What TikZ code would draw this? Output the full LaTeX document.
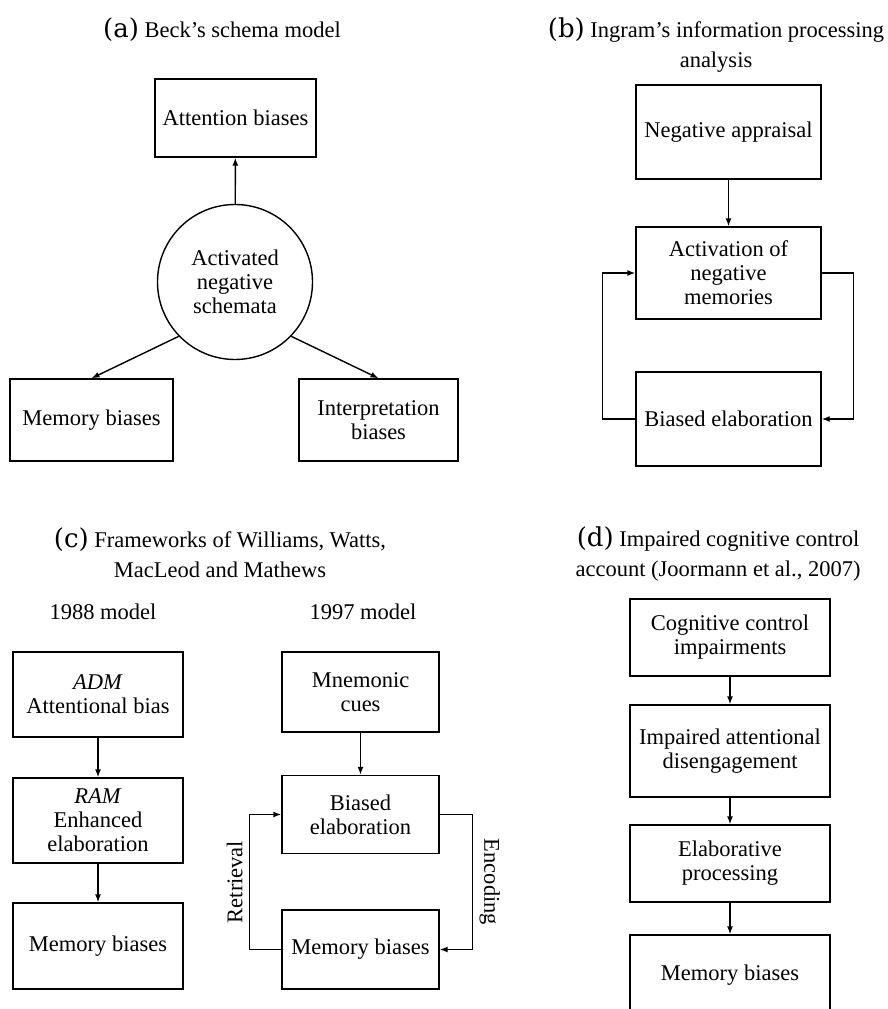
\documentclass[tikz,border=0pt]{standalone}
\usepackage{fontspec}
\setmainfont{Liberation Serif}
\newfontfamily\tagfont{DejaVu Serif}
\usetikzlibrary{arrows.meta}

\newcommand{\paneltag}[1]{{\tagfont\fontsize{26}{26}\selectfont(#1)}}

\begin{document}
\begin{tikzpicture}[x=1pt,y=-1pt,
    font=\fontsize{22.5}{24}\selectfont,
    box/.style={draw,line width=1.4pt,align=center,inner sep=0pt},
    tip/.style={-{Latex[length=8pt,width=6pt]},line width=1.4pt}]

      \useasboundingbox (0,0) rectangle (888,1009);

      % panel titles
      \begin{scope}[every node/.style={align=center,font=\fontsize{22.5}{30}\selectfont}]
        \node (ta) at (222,30)  {\paneltag{a} Beck's schema model};
        \node (tb) at (716,45)  {\paneltag{b} Ingram's information processing\\analysis};
        \node (tc) at (220,553) {\paneltag{c} Frameworks of Williams, Watts,\\MacLeod and Mathews};
        \node (td) at (718,554) {\paneltag{d} Impaired cognitive control\\account (Joormann et al., 2007)};
        \node (y88) at (103,612) {1988 model};
        \node (y97) at (363,612) {1997 model};
      \end{scope}

      % (a)
      \node[box,minimum width=161,minimum height=78] (attn) at (235.5,118) {Attention biases};
      \node[box,circle,minimum size=155] (schema) at (235,282) {Activated\\negative\\schemata};
      \node[box,minimum width=163,minimum height=82] (mema) at (91.5,420) {Memory biases};
      \node[box,minimum width=159,minimum height=82] (interp) at (378.5,420) {Interpretation\\biases};

      % (b)
      \node[box,minimum width=185,minimum height=94] (negapp) at (728.5,132) {Negative appraisal};
      \node[box,minimum width=185,minimum height=92] (activ)  at (728.5,273) {Activation of\\negative\\memories};
      \node[box,minimum width=185,minimum height=94] (biasel) at (728.5,419) {Biased elaboration};

      % (c)
      \node[box,minimum width=170,minimum height=85] (adm)   at (98,694.5) {\textit{ADM}\\Attentional bias};
      \node[box,minimum width=170,minimum height=85] (ram)   at (98,820.5) {\textit{RAM}\\Enhanced\\elaboration};
      \node[box,minimum width=170,minimum height=86] (mem88) at (98,946)   {Memory biases};
      \node[box,minimum width=157,minimum height=80] (mnem)  at (360.5,692)   {Mnemonic\\cues};
      \node[box,minimum width=157,minimum height=78] (bel97) at (360.5,814.5) {Biased\\elaboration};
      \node[box,minimum width=157,minimum height=79] (mem97) at (360.5,949.5) {Memory biases};

      % (d)
      \node[box,minimum width=200,minimum height=77] (cog)  at (730,637.5) {Cognitive control\\impairments};
      \node[box,minimum width=200,minimum height=92] (impd) at (730,751)   {Impaired attentional\\disengagement};
      \node[box,minimum width=200,minimum height=77] (elab) at (730,863.5) {Elaborative\\processing};
      \node[box,minimum width=200,minimum height=80] (memd) at (730,975)   {Memory biases};

      \begin{scope}[every path/.style={tip}]
        \path (schema) edge (attn);
        \path (schema.224) edge (mema.north);
        \path (schema.-44) edge (interp.north);

        \path (negapp) edge (activ);
        \draw (biasel.west) -- ++(-33,0) |- (activ.west);
        \draw (activ.east) -- ++(32,0) |- (biasel.east);

        \path (adm) edge (ram);
        \path (ram) edge (mem88);
        \path (mnem) edge (bel97);
        \draw (mem97.west) -- ++(-32,0) |- (bel97.west)
          node[pos=.25,anchor=south,rotate=90,inner sep=6pt] {Retrieval};
        \draw (bel97.east) -- ++(33,0) |- (mem97.east)
          node[pos=.25,anchor=south,rotate=-90,inner sep=6pt] {Encoding};

        \path (cog) edge (impd);
        \path (impd) edge (elab);
        \path (elab) edge (memd);
      \end{scope}

    \end{tikzpicture}
\end{document}
